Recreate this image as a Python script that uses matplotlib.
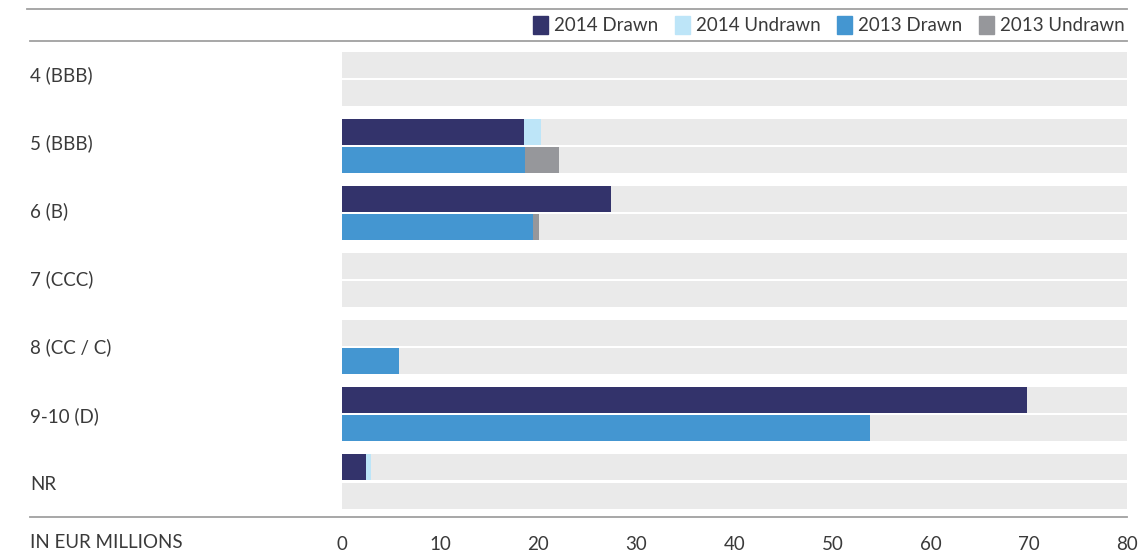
import numpy as np
import matplotlib.pyplot as plt
from matplotlib.lines import Line2D
from matplotlib.patches import Patch
from matplotlib.transforms import blended_transform_factory

plt.rcParams['font.family'] = ['Lato', 'DejaVu Sans']

# data (EUR millions)
categories = ['4 (BBB)', '5 (BBB)', '6 (B)', '7 (CCC)', '8 (CC / C)', '9-10 (D)', 'NR']
drawn_2014 = [0, 18.5, 27.4, 0, 0, 69.8, 2.4]
undrawn_2014 = [0, 1.8, 0, 0, 0, 0, 0.6]
drawn_2013 = [0, 18.7, 19.5, 0, 5.8, 53.8, 0]
undrawn_2013 = [0, 3.4, 0.55, 0, 0, 0, 0]
xticks = [0, 10, 20, 30, 40, 50, 60, 70, 80]
xmax = 80

c_d14 = '#33336b'
c_u14 = '#bde5f8'
c_d13 = '#4496d1'
c_u13 = '#96979b'
c_bg = '#eaeaea'
txt = '#3a3a3a'

W, H = 1147, 553
fig = plt.figure(figsize=(W / 100, H / 100), dpi=100)
ax = fig.add_axes([342 / W, 1 - 517 / H, (1127 - 342) / W, (517 - 41) / H])

y = np.arange(len(categories))
off = 0.212
h = 0.3875

# grey tracks behind each bar
ax.barh(y - off, xmax, height=h, color=c_bg, zorder=1)
ax.barh(y + off, xmax, height=h, color=c_bg, zorder=1)

ax.barh(y - off, drawn_2014, height=h, color=c_d14, zorder=2)
ax.barh(y - off, undrawn_2014, left=drawn_2014, height=h, color=c_u14, zorder=2)
ax.barh(y + off, drawn_2013, height=h, color=c_d13, zorder=2)
ax.barh(y + off, undrawn_2013, left=drawn_2013, height=h, color=c_u13, zorder=2)

ax.set_xlim(0, xmax)
ax.set_ylim(6.531, -0.5626)
for s in ax.spines.values():
    s.set_visible(False)
ax.set_yticks([])
ax.set_xticks(xticks)
ax.set_xticklabels([str(t) for t in xticks], fontsize=13.5, color=txt)
ax.tick_params(axis='x', length=0, pad=14)

# category labels at the far left
tr = blended_transform_factory(fig.transFigure, ax.transData)
for i, cat in enumerate(categories):
    ax.text(30 / W, i * 1.016 - 0.056, cat, transform=tr, fontsize=13.5, color=txt,
            va='center', ha='left')

fig.text(30 / W, 1 - 543 / H, 'IN EUR MILLIONS', fontsize=13.5, color=txt,
         va='center', ha='left')

# horizontal rules
for yy, x0 in [(517, 30), (41, 30), (9, 27)]:
    fig.add_artist(Line2D([x0 / W, 1127 / W], [1 - yy / H, 1 - yy / H],
                          transform=fig.transFigure, color='#a0a0a0', lw=1.3))

handles = [Patch(color=c_d14), Patch(color=c_u14), Patch(color=c_d13), Patch(color=c_u13)]
labels = ['2014 Drawn', '2014 Undrawn', '2013 Drawn', '2013 Undrawn']
fig.legend(handles, labels, ncol=4, loc='center right', bbox_to_anchor=(1132 / W, 1 - 25 / H),
           frameon=False, fontsize=13.5, handlelength=0.8, handleheight=1.1,
           handletextpad=0.3, columnspacing=0.9, labelcolor=txt, borderaxespad=0)

fig.savefig('out.png', dpi=100)
